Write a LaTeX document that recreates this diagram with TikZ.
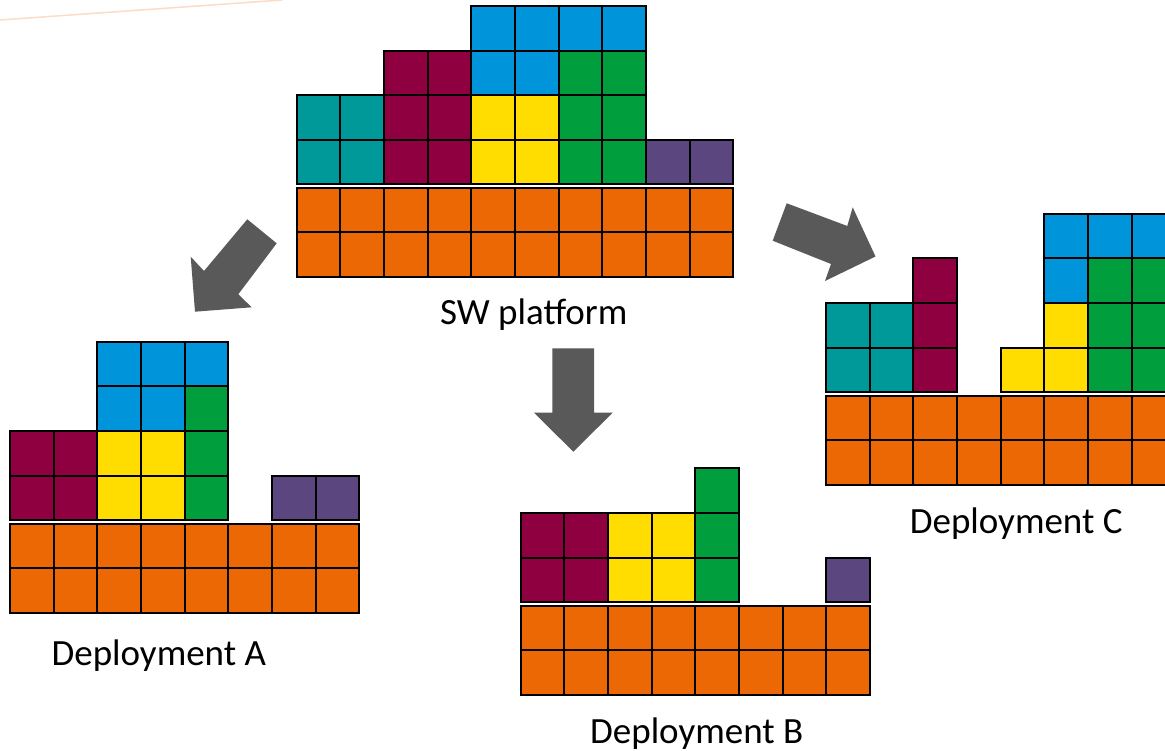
\documentclass[tikz,border=0pt]{standalone}
\usepackage{fontspec}
\setmainfont{Carlito}
\definecolor{tOrange}{HTML}{EC6804}
\definecolor{tBlue}{HTML}{0095DA}
\definecolor{tGreen}{HTML}{009E3D}
\definecolor{tYellow}{HTML}{FFDD00}
\definecolor{tMaroon}{HTML}{8E003F}
\definecolor{tTeal}{HTML}{009999}
\definecolor{tPurple}{HTML}{5B4680}
\definecolor{arrowgray}{HTML}{595959}
\definecolor{peach}{HTML}{FBDCC6}
\newcommand\blocks[2]{\foreach \c/\r in {#2} {\draw[cellst,fill=#1] (\c,\r) rectangle ++(1,1);}}
\newcommand\baserows[1]{\foreach \c in {0,...,#1} {\foreach \k in {1,2} {\draw[cellst,fill=tOrange] (\c,-0.075-\k) rectangle ++(1,1);}}}
\begin{document}
\begin{tikzpicture}[x=1pt,y=-1pt,
  cellst/.style={draw=black,line width=2pt},
  blockarrow/.style={fill=arrowgray,draw=none},
  captionst/.style={font=\fontsize{37}{44}\selectfont,anchor=base,inner sep=0pt},
  gridscope/.style={x=43.67pt,y=44.6pt}]
\clip (0,0) rectangle (1165,751);
\fill[white] (0,0) rectangle (1165,751);
% faint line at top
\draw[peach,line width=1.5pt] (0,20) -- (282,0);
% SW platform
\begin{scope}[shift={(296.7,184.5)},gridscope]
  \baserows{9}
  \blocks{tTeal}{0/0,1/0,0/1,1/1}
  \blocks{tMaroon}{2/0,3/0,2/1,3/1,2/2,3/2}
  \blocks{tYellow}{4/0,5/0,4/1,5/1}
  \blocks{tGreen}{6/0,7/0,6/1,7/1,6/2,7/2}
  \blocks{tBlue}{4/2,5/2,4/3,5/3,6/3,7/3}
  \blocks{tPurple}{8/0,9/0}
\end{scope}
% Deployment A
\begin{scope}[shift={(10,520.2)},gridscope]
  \baserows{7}
  \blocks{tMaroon}{0/0,1/0,0/1,1/1}
  \blocks{tYellow}{2/0,3/0,2/1,3/1}
  \blocks{tGreen}{4/0,4/1,4/2}
  \blocks{tBlue}{2/2,3/2,2/3,3/3,4/3}
  \blocks{tPurple}{6/0,7/0}
\end{scope}
% Deployment B
\begin{scope}[shift={(520.7,602.2)},gridscope]
  \baserows{7}
  \blocks{tMaroon}{0/0,1/0,0/1,1/1}
  \blocks{tYellow}{2/0,3/0,2/1,3/1}
  \blocks{tGreen}{4/0,4/1,4/2}
  \blocks{tPurple}{7/0}
\end{scope}
% Deployment C
\begin{scope}[shift={(826,392.2)},gridscope]
  \baserows{7}
  \blocks{tTeal}{0/0,1/0,0/1,1/1}
  \blocks{tMaroon}{2/0,2/1,2/2}
  \blocks{tYellow}{4/0,5/0,5/1}
  \blocks{tGreen}{6/0,7/0,6/1,7/1,6/2,7/2}
  \blocks{tBlue}{5/2,5/3,6/3,7/3}
\end{scope}
% block arrows
\fill[blockarrow] (247.3,219.3) -- (276.7,243.3) -- (238.3,294.3) -- (251.7,307.3)
  -- (195,311.7) -- (190.7,256.7) -- (204,271) -- cycle;
\fill[blockarrow] (552.3,348.3) -- (594,348.3) -- (594,412.7) -- (612.7,412.7)
  -- (573.3,451.7) -- (534,412.7) -- (552.3,412.7) -- cycle;
\fill[blockarrow] (786.7,203.3) -- (847.3,226) -- (852.7,207.3) -- (875.5,256.5)
  -- (825,281) -- (831,264) -- (772.7,240.7) -- cycle;
% captions
\node[captionst] (swp) at (533.8,325) {SW platform};
\node[captionst] (depA) at (158.8,665) {Deployment A};
\node[captionst] (depB) at (696.7,743.3) {Deployment B};
\node[captionst] (depC) at (1016.2,533.3) {Deployment C};
\end{tikzpicture}
\end{document}
